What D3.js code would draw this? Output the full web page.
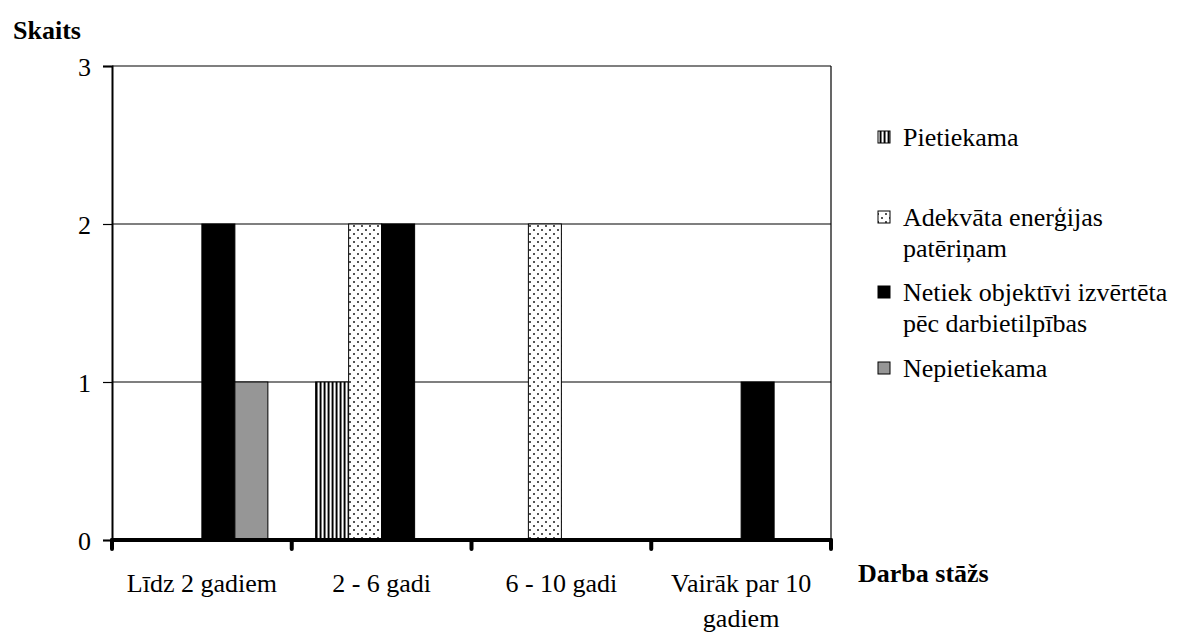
<!DOCTYPE html>
<html><head><meta charset="utf-8">
<script src="https://cdn.jsdelivr.net/npm/d3@7"></script>
<style>body{margin:0;background:#fff}svg{display:block}</style>
</head><body>
<script>
const categories = [["Līdz 2 gadiem"], ["2 - 6 gadi"], ["6 - 10 gadi"], ["Vairāk par 10", "gadiem"]];
const seriesNames = [["Pietiekama"], ["Adekvāta enerģijas", "patēriņam"], ["Netiek objektīvi izvērtēta", "pēc darbietilpības"], ["Nepietiekama"]];
const pietiekama = [0, 1, 0, 0];
const adekvata = [0, 2, 2, 0];
const netiek = [2, 2, 0, 1];
const nepietiekama = [1, 0, 0, 0];
const yTicks = [0, 1, 2, 3];
const yTitle = "Skaits";
const xTitle = "Darba stāžs";

const FONT = "'Liberation Serif', Tinos, 'Times New Roman', 'DejaVu Serif', serif";
const W = 1179, H = 633;
const m = {l: 112, r: 831, t: 66, b: 540};
const svg = d3.select("body").append("svg").attr("width", W).attr("height", H)
  .style("font-family", FONT);
const defs = svg.append("defs");
// patterns
const p1 = defs.append("pattern").attr("id","pStripe").attr("patternUnits","userSpaceOnUse").attr("width",4).attr("height",4);
p1.append("rect").attr("width",4).attr("height",4).attr("fill","#fff");
p1.append("rect").attr("x",0).attr("width",1).attr("height",4).attr("fill","#000");
p1.append("rect").attr("x",1).attr("width",1).attr("height",4).attr("fill","#777");
p1.append("rect").attr("x",3).attr("width",1).attr("height",4).attr("fill","#999");
const p2 = defs.append("pattern").attr("id","pDots").attr("patternUnits","userSpaceOnUse").attr("width",8).attr("height",8);
p2.append("rect").attr("width",8).attr("height",8).attr("fill","#fff");
p2.append("rect").attr("x",1).attr("y",1).attr("width",2).attr("height",2).attr("fill","#555");
p2.append("rect").attr("x",5).attr("y",5).attr("width",2).attr("height",2).attr("fill","#555");
const fills = ["url(#pStripe)", "url(#pDots)", "#000", "#969696"];
const seriesVals = [pietiekama, adekvata, netiek, nepietiekama];

const x0 = d3.scaleBand().domain(d3.range(categories.length)).range([m.l, m.r]).padding(0);
const bw = x0.bandwidth();
const x1 = d3.scaleBand().domain(d3.range(seriesVals.length)).range([(bw-132)/2, (bw+132)/2]).padding(0);
const y = d3.scaleLinear().domain([0, 3]).range([m.b, m.t]);

// gridlines
svg.append("g").selectAll("line").data(yTicks.filter(d=>d>0)).join("line")
  .attr("x1", m.l).attr("x2", m.r).attr("y1", d=>y(d)).attr("y2", d=>y(d))
  .attr("stroke","#000").attr("stroke-width",1.2);
// right border
svg.append("line").attr("x1",m.r).attr("x2",m.r).attr("y1",m.t).attr("y2",m.b).attr("stroke","#000").attr("stroke-width",1.2);

// bars
seriesVals.forEach((vals, s) => {
  svg.append("g").selectAll("rect").data(vals.map((v,i)=>({v,i})).filter(d=>d.v>0)).join("rect")
    .attr("x", d => x0(d.i) + x1(s)).attr("width", x1.bandwidth())
    .attr("y", d => y(d.v)).attr("height", d => y(0) - y(d.v))
    .attr("fill", fills[s]).attr("stroke", "#000").attr("stroke-width", 1);
});

// y axis
const yAxis = d3.axisLeft(y).tickValues(yTicks).tickSize(9).tickPadding(12).tickFormat(d3.format("d"));
const gy = svg.append("g").attr("transform", `translate(${m.l},0)`).call(yAxis);
gy.attr("font-family", null).attr("font-size", null);
gy.select(".domain").attr("stroke","#000").attr("stroke-width",2);
gy.selectAll(".tick line").attr("stroke","#000").attr("stroke-width",1.2);
gy.selectAll(".tick text").style("font-family", FONT).style("font-size","26px").attr("fill","#000").attr("dy","0.35em");

// x axis thick line
svg.append("line").attr("x1",m.l).attr("x2",m.r).attr("y1",m.b).attr("y2",m.b)
  .attr("stroke","#000").attr("stroke-width",4).attr("stroke-linecap","round");
const bounds = d3.range(categories.length + 1).map(i => i < categories.length ? x0(i) : m.r);
svg.append("g").selectAll("line").data(bounds).join("line")
  .attr("x1", d=>d).attr("x2", d=>d).attr("y1", m.b).attr("y2", m.b + 9)
  .attr("stroke","#000").attr("stroke-width",4).attr("stroke-linecap","round");

// x labels
const xl = svg.append("g").selectAll("text").data(categories).join("text")
  .attr("x", (d,i) => x0(i) + bw/2).attr("y", 592).attr("text-anchor","middle")
  .style("font-family", FONT).style("font-size","26px");
xl.selectAll("tspan").data(d=>d).join("tspan").attr("x", function(){return this.parentNode.getAttribute("x");})
  .attr("dy", (d,i)=> i===0 ? 0 : 35).text(d=>d);

// titles
svg.append("text").attr("x", 13).attr("y", 39).style("font-family", FONT).style("font-size","26px").style("font-weight","bold").text(yTitle);
svg.append("text").attr("x", 858).attr("y", 582).style("font-family", FONT).style("font-size","26px").style("font-weight","bold").text(xTitle);

// legend
const legY = [137, 217, 292, 368];
const lg = svg.append("g");
seriesNames.forEach((lines, s) => {
  lg.append("rect").attr("x", 878).attr("y", legY[s]-6).attr("width", 12).attr("height", 12)
    .attr("fill", fills[s]).attr("stroke","#000").attr("stroke-width",1);
  const t = lg.append("text").attr("x", 903).attr("y", legY[s])
    .style("font-family", FONT).style("font-size","26px");
  lines.forEach((ln, j) => t.append("tspan").attr("x", 903).attr("dy", j===0 ? "0.35em" : 31).text(ln));
});
</script>
</body></html>
